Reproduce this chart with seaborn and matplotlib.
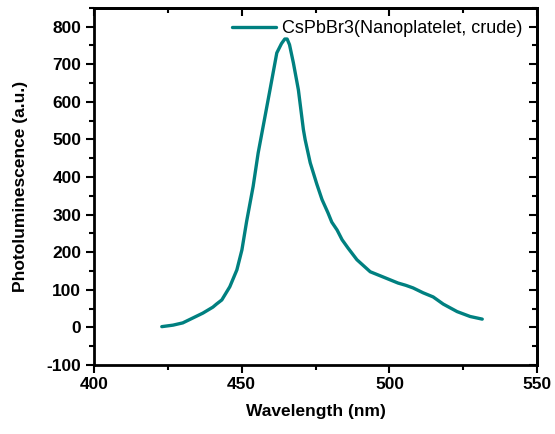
import numpy as np
import pandas as pd
import seaborn as sns
import matplotlib.pyplot as plt
from matplotlib.ticker import MultipleLocator

# PL spectrum
wavelength = [423.0, 426.8, 430.1, 433.5, 436.9, 440.3, 441.5, 443.3, 446.0, 448.4,
              450.1, 451.7, 453.9, 455.6, 457.7, 459.6, 461.9, 463.5, 464.6, 465.4,
              466.2, 467.5, 469.2, 470.9, 471.5, 473.2, 475.4, 477.2, 479.2, 480.5,
              482.3, 484.0, 486.0, 489.0, 493.5, 497.9, 502.9, 505.5, 508.0, 511.4,
              514.8, 518.2, 522.9, 527.3, 531.4]
intensity = [2, 6, 12, 25, 38, 54, 62, 73, 108, 153,
             206, 282, 375, 464, 552, 632, 730, 755, 767, 767,
             752, 704, 632, 526, 499, 438, 382, 340, 305, 280,
             259, 233, 211, 180, 148, 134, 118, 112, 105, 92,
             81, 62, 42, 29, 22]
label = 'CsPbBr3(Nanoplatelet, crude)'

df = pd.DataFrame({'Wavelength': wavelength, 'PL': intensity, 'sample': label})

sns.set_style('ticks')
plt.rcParams['font.family'] = ['Liberation Sans', 'DejaVu Sans']
plt.rcParams['axes.unicode_minus'] = False
plt.rcParams['text.color'] = 'black'
plt.rcParams['axes.labelcolor'] = 'black'
plt.rcParams['xtick.color'] = 'black'
plt.rcParams['ytick.color'] = 'black'
plt.rcParams['axes.edgecolor'] = 'black'

fig = plt.figure(figsize=(5.55, 4.34), dpi=100)
ax = fig.add_axes([0.169, 0.159, 0.799, 0.823])

sns.lineplot(data=df, x='Wavelength', y='PL', hue='sample', palette=['#008080'],
             linewidth=2.4, ax=ax, estimator=None, sort=False)

ax.set_xlim(400, 550)
ax.set_ylim(-100, 850)
ax.xaxis.set_major_locator(MultipleLocator(50))
ax.xaxis.set_minor_locator(MultipleLocator(25))
ax.set_yticks(np.arange(-100, 801, 100))
ax.yaxis.set_minor_locator(MultipleLocator(50))

for sp in ax.spines.values():
    sp.set_linewidth(2)
ax.tick_params(which='major', direction='out', length=6, width=1.5, labelsize=12.5, pad=3)
ax.tick_params(which='minor', direction='out', length=3.5, width=1.5)
for t in ax.get_xticklabels() + ax.get_yticklabels():
    t.set_fontweight('bold')

# inward ticks on top and right
top = ax.secondary_xaxis('top')
top.xaxis.set_major_locator(MultipleLocator(50))
top.xaxis.set_minor_locator(MultipleLocator(25))
top.tick_params(which='both', direction='in', labeltop=False, width=1.5)
top.tick_params(which='major', length=6)
top.tick_params(which='minor', length=3.5)
right = ax.secondary_yaxis('right')
right.yaxis.set_major_locator(MultipleLocator(100))
right.yaxis.set_minor_locator(MultipleLocator(50))
right.tick_params(which='both', direction='in', labelright=False, width=1.5)
right.tick_params(which='major', length=6)
right.tick_params(which='minor', length=3.5)
top.spines['top'].set_linewidth(2)
right.spines['right'].set_linewidth(2)

ax.set_xlabel('Wavelength (nm)', fontsize=12.5, fontweight='bold', labelpad=8)
ax.set_ylabel('Photoluminescence (a.u.)', fontsize=12.5, fontweight='bold', labelpad=13)

leg = ax.legend(loc='upper right', frameon=False, fontsize=13, handlelength=2.4,
                handletextpad=0.35, borderaxespad=0.3, bbox_to_anchor=(0.995, 1.0))
for h in leg.get_lines():
    h.set_linewidth(2.4)

fig.savefig('out.png', dpi=100)
